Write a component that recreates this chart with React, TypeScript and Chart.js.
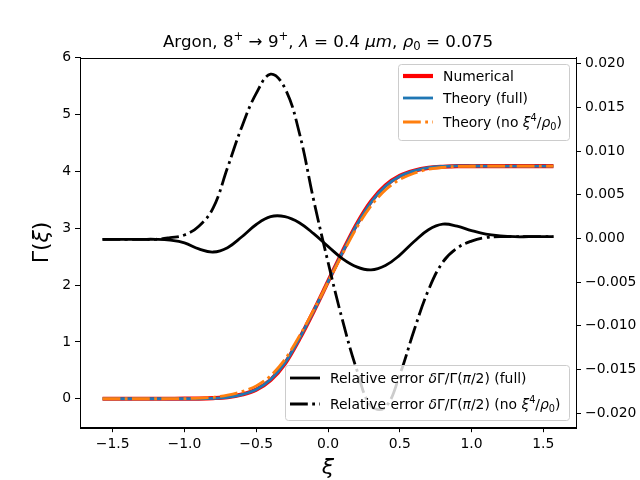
import React, { useEffect, useRef } from 'react';
import Chart from 'chart.js/auto';

// xi grid and values
const xi = [-1.5708, -1.5, -1.4, -1.3, -1.2, -1.1, -1.0, -0.9, -0.8, -0.7, -0.6, -0.5, -0.4, -0.3, -0.2, -0.1, 0,
  0.1, 0.2, 0.3, 0.4, 0.5, 0.6, 0.7, 0.8, 0.9, 1.0, 1.1, 1.2, 1.3, 1.4, 1.5, 1.5708];

const numerical = [0, 0, 0, 0, 0, 0.0005, 0.001, 0.004, 0.012, 0.03, 0.075, 0.16, 0.33, 0.62, 1.05, 1.54, 2.06,
  2.58, 3.07, 3.47, 3.75, 3.92, 4.01, 4.06, 4.08, 4.09, 4.09, 4.09, 4.09, 4.09, 4.09, 4.09, 4.09];

const theoryFull = [0, 0, 0, 0, 0, 0.0003, 0, 0, 0.006, 0.0255, 0.0746, 0.165, 0.34, 0.63, 1.056, 1.541, 2.055,
  2.572, 3.057, 3.455, 3.737, 3.914, 4.009, 4.064, 4.087, 4.096, 4.094, 4.092, 4.091, 4.091, 4.091, 4.091, 4.091];

const theoryNoXi4 = [0, 0, 0, 0, 0, 0.001, 0.003, 0.01, 0.026, 0.063, 0.127, 0.227, 0.406, 0.692, 1.099, 1.558, 2.049,
  2.542, 3.009, 3.392, 3.672, 3.856, 3.967, 4.036, 4.069, 4.086, 4.089, 4.09, 4.091, 4.091, 4.091, 4.091, 4.091];

const errFull = [-0.0001, -0.0001, -0.0001, -0.0001, -0.0001, -0.0002, -0.0005, -0.0012, -0.00155, -0.00105,
  0.0002, 0.0016, 0.0025, 0.0025, 0.0018, 0.00055, -0.0009, -0.0023, -0.00325, -0.0036, -0.0031, -0.0019, -0.00035,
  0.001, 0.00164, 0.0014, 0.0009, 0.0005, 0.0003, 0.0002, 0.0002, 0.0002, 0.0002];

const errNoXi4 = [-0.0001, -0.0001, -0.0001, -0.0001, -0.0001, 0.0001, 0.0004, 0.0014, 0.0035, 0.0081, 0.0128, 0.0166,
  0.0188, 0.0172, 0.0121, 0.0044, -0.0027, -0.0093, -0.015, -0.0192, -0.0193, -0.0156, -0.0105, -0.0059, -0.0027,
  -0.0011, -0.0003, 0.0001, 0.0002, 0.0002, 0.0002, 0.0002, 0.0002];

const xTicks = [-1.5, -1.0, -0.5, 0, 0.5, 1.0, 1.5];
const yTicks = [0, 1, 2, 3, 4, 5, 6];
const y2Ticks = [-0.02, -0.015, -0.01, -0.005, 0, 0.005, 0.01, 0.015, 0.02];

const FONT = '"DejaVu Sans"';
const DASHDOT = [17.8, 4.4, 2.8, 4.4];

type Seg = { t: string; it?: boolean; sup?: boolean; sub?: boolean };

function rich(ctx: CanvasRenderingContext2D, segs: Seg[], x: number, y: number, size: number, align: 'left' | 'center') {
  const font = (s: Seg) => `${s.it ? 'italic ' : ''}${s.sup || s.sub ? size * 0.7 : size}px ${FONT}`;
  let total = 0;
  for (const s of segs) {
    ctx.font = font(s);
    total += ctx.measureText(s.t).width;
  }
  let cx = align === 'center' ? x - total / 2 : x;
  ctx.textAlign = 'left';
  ctx.textBaseline = 'alphabetic';
  ctx.fillStyle = '#000';
  for (const s of segs) {
    ctx.font = font(s);
    const dy = s.sup ? -size * 0.4 : s.sub ? size * 0.18 : 0;
    ctx.fillText(s.t, cx, y + dy);
    cx += ctx.measureText(s.t).width;
  }
}

type Item = { segs: Seg[]; color: string; width: number; dash: number[] };

function legend(ctx: CanvasRenderingContext2D, x: number, y: number, w: number, h: number, rows: number[], items: Item[]) {
  ctx.save();
  ctx.beginPath();
  ctx.roundRect(x + 0.5, y + 0.5, w, h, 3);
  ctx.fillStyle = 'rgba(255,255,255,0.8)';
  ctx.fill();
  ctx.strokeStyle = '#cccccc';
  ctx.lineWidth = 1;
  ctx.stroke();
  items.forEach((it, i) => {
    const ry = rows[i];
    ctx.beginPath();
    ctx.setLineDash(it.dash);
    ctx.lineCap = 'butt';
    ctx.strokeStyle = it.color;
    ctx.lineWidth = it.width;
    ctx.moveTo(x + 5, ry);
    ctx.lineTo(x + 35, ry);
    ctx.stroke();
    ctx.setLineDash([]);
    rich(ctx, it.segs, x + 45, ry + 5, 13.9, 'left');
  });
  ctx.restore();
}

const decor = {
  id: 'decor',
  afterDraw(chart: any) {
    const ctx: CanvasRenderingContext2D = chart.ctx;
    const a = chart.chartArea;
    ctx.save();
    ctx.strokeStyle = '#000';
    ctx.lineWidth = 1;
    ctx.strokeRect(Math.round(a.left) + 0.5, Math.round(a.top) + 0.5, Math.round(a.right - a.left), Math.round(a.bottom - a.top));

    rich(ctx, [
      { t: 'Argon, 8' }, { t: '+', sup: true }, { t: ' \u2192 9' }, { t: '+', sup: true }, { t: ', ' },
      { t: '\u03bb', it: true }, { t: ' = 0.4 ' }, { t: '\u03bcm', it: true }, { t: ', ' },
      { t: '\u03c1', it: true }, { t: '0', sub: true }, { t: ' = 0.075' },
    ], (a.left + a.right) / 2, 47, 16.7, 'center');

    rich(ctx, [{ t: '\u03be', it: true }], (a.left + a.right) / 2, 474, 22, 'center');

    ctx.save();
    ctx.translate(40, (a.top + a.bottom) / 2);
    ctx.rotate(-Math.PI / 2);
    rich(ctx, [{ t: '\u0393(' }, { t: '\u03be', it: true }, { t: ')' }], 0, 8, 22, 'center');
    ctx.restore();

    legend(ctx, 398, 64, 171, 76, [76, 98, 122], [
      { segs: [{ t: 'Numerical' }], color: '#ff0000', width: 4.2, dash: [] },
      { segs: [{ t: 'Theory (full)' }], color: '#1f77b4', width: 2.8, dash: [] },
      { segs: [{ t: 'Theory (no ' }, { t: '\u03be', it: true }, { t: '4', sup: true }, { t: '/' }, { t: '\u03c1', it: true }, { t: '0', sub: true }, { t: ')' }], color: '#ff7f0e', width: 2.8, dash: DASHDOT },
    ]);

    legend(ctx, 285, 365, 284, 55, [378, 404], [
      { segs: [{ t: 'Relative error ' }, { t: '\u03b4', it: true }, { t: '\u0393/\u0393(' }, { t: '\u03c0', it: true }, { t: '/2) (full)' }], color: '#000', width: 2.8, dash: [] },
      { segs: [{ t: 'Relative error ' }, { t: '\u03b4', it: true }, { t: '\u0393/\u0393(' }, { t: '\u03c0', it: true }, { t: '/2) (no ' }, { t: '\u03be', it: true }, { t: '4', sup: true }, { t: '/' }, { t: '\u03c1', it: true }, { t: '0', sub: true }, { t: ')' }], color: '#000', width: 2.8, dash: DASHDOT },
    ]);
    ctx.restore();
  },
};

const fmt = (v: number, d: number) => (v < -1e-12 ? '\u2212' : '') + Math.abs(v).toFixed(d);

function axisStyle(ticks: number[], digits: number) {
  return {
    grid: { display: true, drawOnChartArea: false, drawTicks: true, tickLength: 5, color: '#000', lineWidth: 1 },
    border: { display: true, color: '#000', width: 1 },
    ticks: {
      color: '#000',
      font: { family: 'DejaVu Sans', size: 13.9 },
      padding: 4,
      autoSkip: false,
      maxRotation: 0,
      callback: (v: any) => fmt(Number(v), digits),
    },
    afterBuildTicks: (s: any) => {
      s.ticks = ticks.map(value => ({ value }));
    },
  };
}

function GammaChart() {
  const canvasRef = useRef<HTMLCanvasElement>(null);

  useEffect(() => {
    if (!canvasRef.current) return;
    const pts = (ys: number[]) => xi.map((x, i) => ({ x, y: ys[i] }));
    const gammaLine = { pointRadius: 0, borderCapStyle: 'butt', cubicInterpolationMode: 'monotone', fill: false };
    const errLine = { pointRadius: 0, borderCapStyle: 'butt', tension: 0.4, fill: false };

    const chart = new Chart(canvasRef.current, {
      type: 'line',
      data: {
        datasets: [
          { ...errLine, label: 'err no xi4', data: pts(errNoXi4), yAxisID: 'y2', borderColor: '#000', borderWidth: 2.8, borderDash: DASHDOT, order: 0 },
          { ...errLine, label: 'err full', data: pts(errFull), yAxisID: 'y2', borderColor: '#000', borderWidth: 2.8, order: 1 },
          { ...gammaLine, label: 'Theory (no xi4)', data: pts(theoryNoXi4), yAxisID: 'y', borderColor: '#ff7f0e', borderWidth: 2.8, borderDash: DASHDOT, order: 2 },
          { ...gammaLine, label: 'Theory (full)', data: pts(theoryFull), yAxisID: 'y', borderColor: '#1f77b4', borderWidth: 2.8, order: 3 },
          { ...gammaLine, label: 'Numerical', data: pts(numerical), yAxisID: 'y', borderColor: '#ff0000', borderWidth: 4.2, order: 4 },
        ] as any,
      },
      options: {
        responsive: false,
        animation: false,
        layout: { padding: { top: 57.6, left: 0, right: 0, bottom: 0 } },
        plugins: { legend: { display: false }, tooltip: { enabled: false }, title: { display: false } },
        scales: {
          x: { type: 'linear', min: -1.7279, max: 1.7279, ...axisStyle(xTicks, 1), afterFit: (s: any) => { s.height = 52.8; } },
          y: { type: 'linear', position: 'left', min: -0.5, max: 6, ...axisStyle(yTicks, 0), afterFit: (s: any) => { s.width = 80; } },
          y2: { type: 'linear', position: 'right', min: -0.0216, max: 0.0207, ...axisStyle(y2Ticks, 3), afterFit: (s: any) => { s.width = 64; } },
        } as any,
      },
      plugins: [decor],
    });

    return () => {
      chart.destroy();
    };
  }, []);

  return <canvas ref={canvasRef} width={640} height={480} style={{ display: 'block' }} />;
}

export default function App() {
  return (
    <div style={{ position: 'absolute', left: 0, top: 0, width: 640, height: 480, background: '#fff' }}>
      <GammaChart />
    </div>
  );
}
